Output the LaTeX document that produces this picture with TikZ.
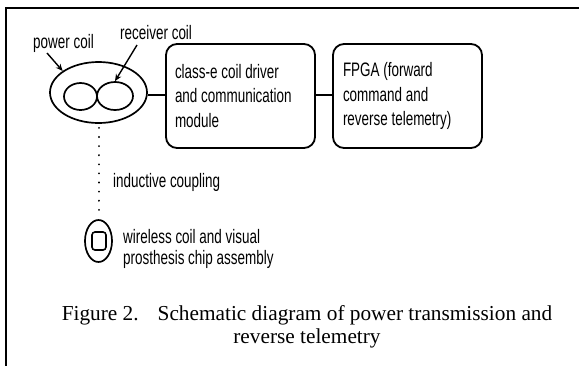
\documentclass[tikz,border=0pt]{standalone}
\usepackage{fontspec}
\newfontfamily\diagfont[FakeStretch=0.69]{Liberation Sans}
\newfontfamily\capfont{Liberation Serif}
\usetikzlibrary{shapes.geometric,arrows.meta}
\begin{document}
\begin{tikzpicture}[x=1pt,y=-1pt,
  lbl/.style={font=\diagfont\fontsize{19.5pt}{24pt}\selectfont, inner sep=0pt},
  block/.style={draw, line width=1.8pt, rounded corners=11pt,
    minimum width=149pt, minimum height=104pt, inner ysep=0pt,
    font=\diagfont\fontsize{19.5pt}{24.5pt}\selectfont, align=flush left},
  coil/.style={draw, ellipse, line width=1.7pt, inner sep=0pt},
  wire/.style={line width=1.6pt},
  tip/.style={-{Stealth[length=7pt,width=6pt]}, line width=1.4pt}
]
\useasboundingbox (0,0) rectangle (579,365);

% frame
\draw[line width=2pt] (590,8) -- (6,8) -- (6,375);

% processing blocks
\node[block, inner xsep=9pt, text width=131pt] (drv) at (240.5,96)
  {class-e coil driver\\and communication\\module};
\node[block, inner xsep=10pt, text width=129pt] (fpga) at (407.5,96)
  {FPGA (forward\\command and\\reverse telemetry)};

% power coil with the two receiver loops
\node[coil, minimum width=97pt, minimum height=61pt] (pc) at (98.5,92.5) {};
\node[coil, minimum width=33pt, minimum height=27pt] (lc) at (80.5,96.5) {};
\node[coil, minimum width=36pt, minimum height=28pt] (rc) at (115,96) {};

\draw[wire] (drv.west |- 0,95) -- (pc.east |- 0,95);
\draw[wire] (drv.east |- 0,95) -- (fpga.west |- 0,95);

% coil labels
\node[lbl, anchor=base west] (pcl) at (33,48) {power coil};
\node[lbl, anchor=base west] (rcl) at (120,39.5) {receiver coil};
\coordinate (pcTail) at (47,53);
\coordinate (rcTail) at (137,45);
\draw[tip] (pcTail) -- (pc.149);
\draw[tip] (rcTail) -- (rc.north);

% implanted assembly
\node[coil, minimum width=27pt, minimum height=42pt] (wc) at (98.5,241) {};
\node[draw, line width=1.6pt, rounded corners=3pt, minimum width=14pt,
  minimum height=18pt, inner sep=0pt] (chip) at (99,241) {};

% inductive link
\draw[line width=2pt, dash pattern=on 0.1pt off 9pt, line cap=round,
  shorten <=4pt, shorten >=5pt] (pc.south) -- (wc.north);
\node[lbl, anchor=base west] (ind) at (113,187) {inductive coupling};
\node[lbl, anchor=base west, align=flush left,
  font=\diagfont\fontsize{19.5pt}{21.5pt}\selectfont] (wcl) at (123,264.5)
  {wireless coil and visual\\prosthesis chip assembly};

% caption (base anchor sits on the last line)
\node[font=\capfont\fontsize{21.3pt}{23pt}\selectfont, align=center,
  anchor=base, inner sep=0pt] (cap) at (307,343)
  {Figure 2.\hspace{19pt}Schematic diagram of power transmission and\\reverse telemetry};
\end{tikzpicture}
\end{document}
